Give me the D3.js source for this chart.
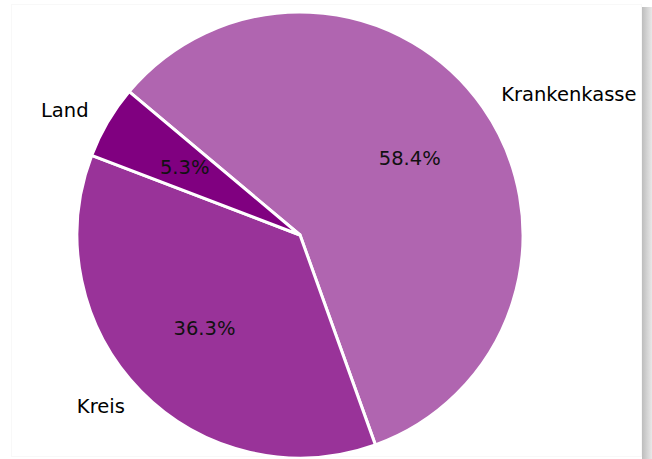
<!DOCTYPE html>
<html><head><meta charset="utf-8">
<script src="https://cdn.jsdelivr.net/npm/d3@7"></script>
<style>html,body{margin:0;padding:0;background:#fff;overflow:hidden}</style>
</head><body>
<svg id="c" width="652" height="459"></svg>
<script>
const categories = ["Krankenkasse", "Kreis", "Land"];
const values = [58.4, 36.3, 5.3];
const colors = ["#b065b0", "#993399", "#800080"];

const svg = d3.select("#c");
const W = 652, H = 459;

// frame with right shadow
const defs = svg.append("defs");
const g1 = defs.append("linearGradient").attr("id","sh").attr("x1","0").attr("x2","1");
g1.append("stop").attr("offset","0").attr("stop-color","#bdbdbd");
g1.append("stop").attr("offset","1").attr("stop-color","#e8e8e8");
svg.append("rect").attr("x",642).attr("y",7).attr("width",10).attr("height",H-7).attr("fill","url(#sh)");
svg.append("rect").attr("x",11.5).attr("y",4.5).attr("width",630).attr("height",452).attr("fill","none").attr("stroke","#f8f8f8").attr("stroke-width",1);

const cx = 300, cy = 235, r = 223;
const data = categories.map((c,i)=>({name:c, value:values[i], color:colors[i]}));
const pie = d3.pie().value(d=>d.value).sort(null)
  .startAngle(-50*Math.PI/180).endAngle(310*Math.PI/180);
const arcs = pie(data);
const arc = d3.arc().innerRadius(0).outerRadius(r);
const g = svg.append("g").attr("transform",`translate(${cx},${cy})`);
g.selectAll("path.s").data(arcs).join("path")
  .attr("d",arc).attr("fill",d=>d.data.color)
  .attr("stroke","#fff").attr("stroke-width",3).attr("stroke-linejoin","miter");

const font = "DejaVu Sans, sans-serif";
function pos(d, k){ const a=(d.startAngle+d.endAngle)/2; return [Math.sin(a)*r*k, -Math.cos(a)*r*k]; }
g.selectAll("text.lab").data(arcs).join("text")
  .attr("x",d=>pos(d,1.1)[0]).attr("y",d=>pos(d,1.1)[1])
  .attr("text-anchor",d=>pos(d,1)[0]>=0?"start":"end")
  .attr("dominant-baseline","central")
  .attr("font-family",font).attr("font-size",19.5).attr("fill","#000")
  .text(d=>d.data.name);
g.selectAll("text.pct").data(arcs).join("text")
  .attr("x",d=>pos(d,0.6)[0]).attr("y",d=>pos(d,0.6)[1])
  .attr("text-anchor","middle").attr("dominant-baseline","central")
  .attr("font-family",font).attr("font-size",19.5).attr("fill","#111")
  .text(d=>d.data.value.toFixed(1)+"%");
</script>
</body></html>
